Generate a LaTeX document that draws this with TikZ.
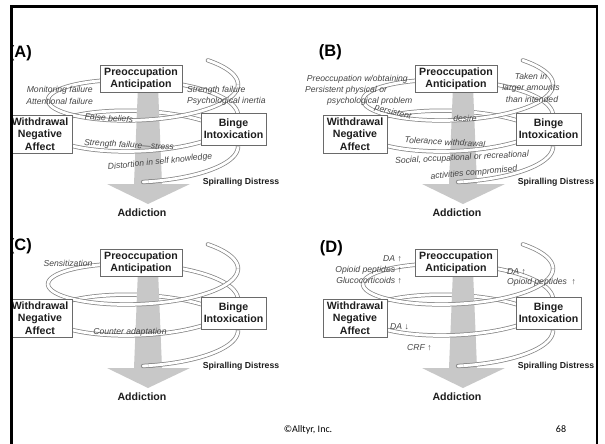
\documentclass[tikz,border=0pt]{standalone}
\usepackage{fontspec}
\setmainfont{Liberation Sans}
\newfontfamily\footfont{Carlito}
\definecolor{boxgray}{HTML}{6A6A6A}
\definecolor{tubegray}{HTML}{858585}
\definecolor{arrowgray}{HTML}{C8C8C8}
\definecolor{lblgray}{HTML}{454545}
\definecolor{inkdark}{HTML}{1E1E1E}

\tikzset{
  stagebox/.style={draw=boxgray, fill=white, line width=0.9pt, inner sep=0pt,
    align=center, text=inkdark, font=\fontsize{10.6}{12.3}\selectfont\bfseries},
  tube/.style={draw=tubegray, line width=0.75pt, double=white, double distance=2.8pt},
  lbl/.style={font=\fontsize{8.6}{10}\selectfont\itshape, text=lblgray, inner sep=0pt},
  boldlbl/.style={font=\fontsize{8.7}{10}\selectfont\bfseries, text=inkdark, inner sep=0pt},
  paneltag/.style={font=\fontsize{16.5}{18}\selectfont\bfseries, text=black, inner sep=0pt},
  koobcycle/.pic={
    % parts of the spiral behind the axis
    \draw[tube, line cap=round] plot[domain=-0.82:0, samples=20, variable=\u]
      ({143+95*cos(\u r)}, {84.6+27.7*sin(\u r)+4.93*\u});
    \draw[tube] plot[domain=3.1416:6.2832, samples=50, variable=\u]
      ({143+95*cos(\u r)}, {84.6+27.7*sin(\u r)+4.93*\u});
    \draw[tube] plot[domain=9.4248:12.5664, samples=50, variable=\u]
      ({143+95*cos(\u r)}, {84.6+27.7*sin(\u r)+4.93*\u});
    % the broad arrow down the axis
    \fill[arrowgray] (138,86) -- (158,86) -- (162,184) -- (190,184) -- (148,204)
      -- (107,184) -- (134,184) -- cycle;
    % parts of the spiral in front of the axis
    \draw[tube] plot[domain=0:3.1416, samples=50, variable=\u]
      ({143+95*cos(\u r)}, {84.6+27.7*sin(\u r)+4.93*\u});
    \draw[tube] plot[domain=6.2832:9.4248, samples=50, variable=\u]
      ({143+95*cos(\u r)}, {84.6+27.7*sin(\u r)+4.93*\u});
    \draw[tube, line cap=round] plot[domain=14.0172:14.1372, samples=6, variable=\u]
      ({143+95*cos(\u r)}, {84.6+27.7*sin(\u r)+4.93*\u});
    \draw[tube] plot[domain=12.5664:14.0772, samples=30, variable=\u]
      ({143+95*cos(\u r)}, {84.6+27.7*sin(\u r)+4.93*\u});
    % the three stages
    \node[stagebox, minimum width=82pt, minimum height=27pt] (-pre) at (141,78.5)
      {Preoccupation\\Anticipation};
    \node[stagebox, minimum width=64pt, minimum height=38pt] (-wd) at (40,134)
      {Withdrawal\\Negative\\Affect};
    \node[stagebox, minimum width=65pt, minimum height=32pt] (-bi) at (233.5,129)
      {Binge\\Intoxication};
    \node[boldlbl] (-sd) at (241,182) {Spiralling Distress};
    \node[font=\fontsize{10.6}{12}\selectfont\bfseries, text=inkdark, inner sep=0pt]
      (-add) at (142,213) {Addiction};
  }
}

\begin{document}
\begin{tikzpicture}[x=1pt, y=-1pt]
\useasboundingbox (0,0) rectangle (605,444);
\fill[white] (0,0) rectangle (605,444);

\begin{scope}
  \clip (12.5,0) rectangle (596,444);
  \pic (A) at (0,0) {koobcycle};
  \pic (B) at (315,0) {koobcycle};
  \pic (C) at (0,184) {koobcycle};
  \pic (D) at (315,184) {koobcycle};

  \node[paneltag, anchor=east] (tagA) at (32,53) {(A)};
  \node[paneltag, anchor=east] (tagB) at (342,52) {(B)};
  \node[paneltag, anchor=east] (tagC) at (32,246) {(C)};
  \node[paneltag, anchor=east] (tagD) at (343,248) {(D)};

  % (A) labels
  \node[lbl, anchor=east] (a1) at (93,90) {Monitoring failure};
  \node[lbl, anchor=east] (a2) at (93,101) {Attentional failure};
  \node[lbl, anchor=west] (a3) at (187,90) {Strength failure};
  \node[lbl, anchor=west] (a4) at (187,101) {Psychological inertia};
  \node[lbl, rotate=-4] (a5) at (109,118) {False beliefs};
  \node[lbl, rotate=-3] (a6) at (129,145.5) {Strength failure—stress};
  \node[lbl, rotate=6] (a7) at (160,162) {Distortion in self knowledge};

  % (B) labels
  \node[lbl, anchor=east] (b1) at (408,79) {Preoccupation w/obtaining};
  \node[lbl, anchor=west] (b2) at (305,90) {Persistent physical or};
  \node[lbl, anchor=west] (b3) at (327,101) {psychological problem};
  \node[lbl, rotate=-15] (b4) at (393,112.5) {persistent};
  \node[lbl] (b5) at (465,118) {desire};
  \node[lbl] (b6) at (531,76) {Taken in};
  \node[lbl] (b7) at (531,88) {larger amounts};
  \node[lbl] (b8) at (532,99) {than intended};
  \node[lbl, rotate=-3] (b9) at (445,142) {Tolerance withdrawal};
  \node[lbl, rotate=3] (b10) at (462,158) {Social, occupational or recreational};
  \node[lbl, rotate=5] (b11) at (474,173) {activities compromised};

  % (C) labels
  \node[lbl] (c1) at (68,263) {Sensitization};
  \node[lbl] (c2) at (130,332) {Counter adaptation};

  % (D) labels
  \node[lbl, anchor=east] (d1) at (402,259) {DA {\upshape↑}};
  \node[lbl, anchor=east] (d2) at (402,270) {Opioid peptides {\upshape↑}};
  \node[lbl, anchor=east] (d3) at (402,281) {Glucocorticoids {\upshape↑}};
  \node[lbl, anchor=west] (d4) at (507,272) {DA {\upshape↑}};
  \node[lbl, anchor=west] (d5) at (507,282) {Opioid peptides\ \ {\upshape↑}};
  \node[lbl, anchor=west] (d6) at (390,327) {DA {\upshape↓}};
  \node[lbl, anchor=west] (d7) at (407,348) {CRF {\upshape↑}};
\end{scope}

% slide frame
\draw[line width=2.8pt, black, line join=miter] (11.5,444) -- (11.5,6.2) -- (597,6.2) -- (597,444);

% footer
\node[font=\footfont\fontsize{10}{12}\selectfont, text=black, inner sep=0pt] (foot) at (308,430) {©Alltyr, Inc.};
\node[font=\footfont\fontsize{10}{12}\selectfont, text=black, inner sep=0pt] (pageno) at (561,429) {68};
\end{tikzpicture}
\end{document}
